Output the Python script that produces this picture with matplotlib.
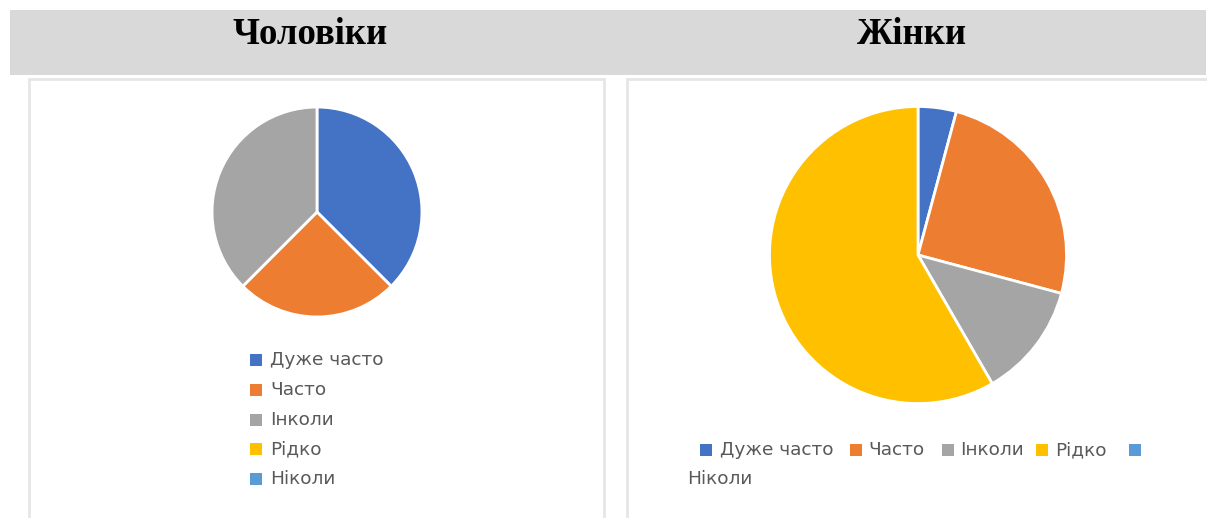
import matplotlib
matplotlib.use("Agg")
import matplotlib.pyplot as plt
from matplotlib.patches import Rectangle

W, H = 1207, 518

categories = ["Дуже часто", "Часто", "Інколи", "Рідко", "Ніколи"]
colors = ["#4472C4", "#ED7D31", "#A5A5A5", "#FFC000", "#5B9BD5"]
men_values = [3, 2, 3, 0, 0]
women_values = [1, 6, 3, 14, 0]
titles = ["Чоловіки", "Жінки"]

fig = plt.figure(figsize=(W / 100, H / 100), dpi=100)
fig.patch.set_facecolor("white")


def fx(x):
    return x / W


def fy(y):
    return 1 - y / H


def add_rect(x0, y0, x1, y1, **kw):
    fig.add_artist(Rectangle((fx(x0), fy(y1)), fx(x1) - fx(x0), fy(y0) - fy(y1),
                             transform=fig.transFigure, zorder=-1, **kw))


# header band
add_rect(10, 10, 1206, 75, facecolor="#D9D9D9", edgecolor="none")
fig.text(fx(310), fy(34), titles[0], ha="center", va="center",
         fontsize=26.5, fontweight="bold", family="Liberation Serif", color="black")
fig.text(fx(912), fy(34), titles[1], ha="center", va="center",
         fontsize=26.5, fontweight="bold", family="Liberation Serif", color="black")

# panel borders
add_rect(29, 79, 604, 530, facecolor="white", edgecolor="#E6E6E6", linewidth=2)
add_rect(627, 79, 1220, 530, facecolor="white", edgecolor="#E6E6E6", linewidth=2)


def pie_axes(cx, cy, r):
    ax = fig.add_axes([fx(cx - r), fy(cy + r), 2 * r / W, 2 * r / H])
    ax.axis("off")
    ax.set_zorder(2)
    return ax


def draw_pie(ax, values):
    cols = [c for c, v in zip(colors, values) if v > 0]
    vals = [v for v in values if v > 0]
    ax.pie(vals, colors=cols, startangle=90, counterclock=False, radius=1,
           wedgeprops=dict(edgecolor="white", linewidth=2))
    ax.set_xlim(-1.01, 1.01)
    ax.set_ylim(-1.01, 1.01)


ax1 = pie_axes(317, 212, 106)
draw_pie(ax1, men_values)
ax2 = pie_axes(918, 255, 150)
draw_pie(ax2, women_values)

legend_font = dict(fontsize=13.3, family="DejaVu Sans", color="#595959", va="center", ha="left")
sq = 12

# left legend (vertical)
for i, (lab, col) in enumerate(zip(categories, colors)):
    y = 360 + i * 29.8
    add_rect(250, y - sq / 2, 250 + sq, y + sq / 2, facecolor=col, edgecolor="none")
    fig.text(fx(270), fy(y), lab, **legend_font)

# right legend (wrapped row)
sq_x = [700, 850, 942, 1036, 1129]
txt_pos = [(720, 450), (868, 450), (960, 450), (1055, 450), (687, 479)]
for lab, col, sx, (tx, ty) in zip(categories, colors, sq_x, txt_pos):
    add_rect(sx, 450 - sq / 2, sx + sq, 450 + sq / 2, facecolor=col, edgecolor="none")
    fig.text(fx(tx), fy(ty), lab, **legend_font)

fig.savefig("out.png", dpi=100, facecolor="white")
